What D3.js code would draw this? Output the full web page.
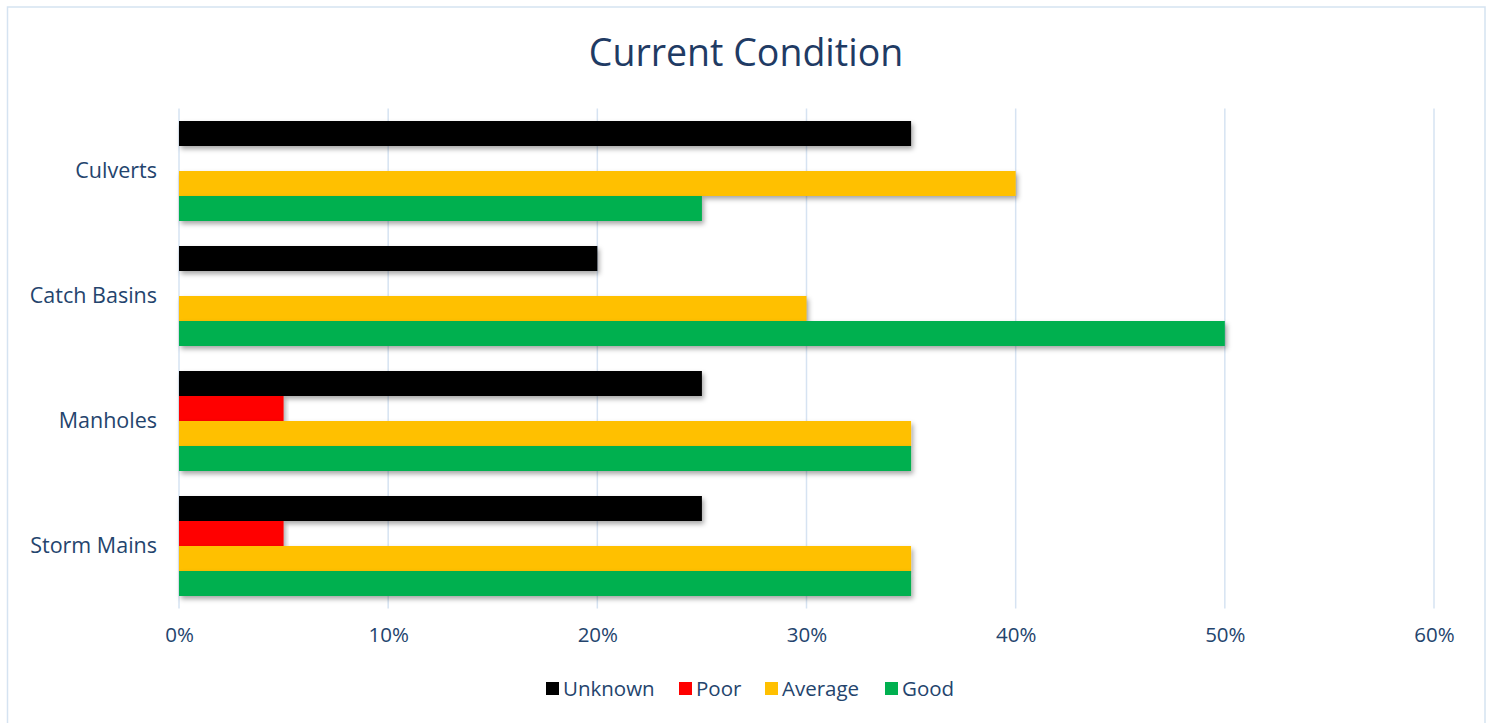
<!DOCTYPE html>
<html>
<head>
<meta charset="utf-8">
<script src="https://cdn.jsdelivr.net/npm/d3@7"></script>
<style>
  body { margin: 0; background: #fff; }
  text { font-family: "Open Sans", sans-serif; }
</style>
</head>
<body>
<div id="chart"></div>
<script>
// DATA
const categories = ["Culverts", "Catch Basins", "Manholes", "Storm Mains"]
const series = ["Unknown", "Poor", "Average", "Good"]
const colors = ["#000000", "#ff0000", "#ffc000", "#00b050"]
const unknownVals = [0.35, 0.20, 0.25, 0.25]
const poorVals = [0, 0, 0.05, 0.05]
const averageVals = [0.40, 0.30, 0.35, 0.35]
const goodVals = [0.25, 0.50, 0.35, 0.35]
const xTicks = [0, 0.1, 0.2, 0.3, 0.4, 0.5, 0.6]

const values = [unknownVals, poorVals, averageVals, goodVals]
const data = categories.map((c, i) => ({
  cat: c,
  vals: series.map((s, j) => ({ key: s, value: values[j][i] }))
}))

const width = 1492, height = 723
const margin = { left: 179, right: 58, top: 108.5, bottom: 114.5 }

const svg = d3.select("#chart")
  .append("svg")
  .attr("width", width)
  .attr("height", height)

// drop shadow like the office chart
const defs = svg.append("defs")
const f = defs.append("filter").attr("id", "shadow")
  .attr("x", "-5%").attr("y", "-30%").attr("width", "110%").attr("height", "180%")
f.append("feDropShadow")
  .attr("dx", 2).attr("dy", 3).attr("stdDeviation", 2.5)
  .attr("flood-color", "#000").attr("flood-opacity", 0.35)

// outer border
svg.append("rect")
  .attr("x", 7.5).attr("y", 7).attr("width", 1477.5).attr("height", 720)
  .attr("fill", "none").attr("stroke", "#d5e3f1").attr("stroke-width", 1.5)

const xScale = d3.scaleLinear()
  .domain([0, 0.6])
  .range([margin.left, width - margin.right])

const yScale = d3.scaleBand()
  .domain(categories)
  .range([margin.top, height - margin.bottom])
  .paddingInner(0.2)
  .paddingOuter(0.1)

const ySub = d3.scaleBand()
  .domain(series)
  .range([0, yScale.bandwidth()])

// GRID
svg.append("g")
  .selectAll("line")
  .data(xTicks)
  .join("line")
    .attr("x1", d => xScale(d))
    .attr("x2", d => xScale(d))
    .attr("y1", margin.top)
    .attr("y2", height - margin.bottom)
    .attr("stroke", "#d6e3f2")
    .attr("stroke-width", 1.5)

// X AXIS
const xAxis = d3.axisBottom(xScale)
  .tickValues(xTicks)
  .tickFormat(d3.format(".0%"))
  .tickSize(0)
  .tickPadding(19)

svg.append("g")
  .attr("transform", `translate(0, ${height - margin.bottom})`)
  .call(xAxis)
  .call(g => g.select(".domain").remove())
  .selectAll("text")
    .attr("font-size", 20.5)
    .attr("font-family", "Open Sans, sans-serif")
    .attr("fill", "#24446d")

// Y AXIS
const yAxis = d3.axisLeft(yScale).tickSize(0).tickPadding(22)
svg.append("g")
  .attr("transform", `translate(${margin.left}, 0)`)
  .call(yAxis)
  .call(g => g.select(".domain").remove())
  .selectAll("text")
    .attr("font-size", 21.5)
    .attr("font-family", "Open Sans, sans-serif")
    .attr("fill", "#24446d")

// BARS
const groups = svg.append("g")
  .selectAll("g")
  .data(data)
  .join("g")
    .attr("transform", d => `translate(0, ${yScale(d.cat)})`)

groups.selectAll("rect")
  .data(d => d.vals.filter(v => v.value > 0))
  .join("rect")
    .attr("x", xScale(0))
    .attr("y", d => ySub(d.key))
    .attr("width", d => xScale(d.value) - xScale(0))
    .attr("height", ySub.bandwidth())
    .attr("fill", (d) => colors[series.indexOf(d.key)])
    .attr("filter", "url(#shadow)")

// TITLE
svg.append("text")
  .attr("x", 746)
  .attr("y", 66)
  .attr("text-anchor", "middle")
  .attr("font-size", 37.5)
  .attr("fill", "#1f3b64")
  .text("Current Condition")

// LEGEND
const legendX = [546, 679, 765, 885]
const legend = svg.append("g")
  .selectAll("g")
  .data(series)
  .join("g")
    .attr("transform", (d, i) => `translate(${legendX[i]}, 682)`)

legend.append("rect")
  .attr("width", 13).attr("height", 13)
  .attr("fill", (d, i) => colors[i])

legend.append("text")
  .attr("x", 17)
  .attr("y", 14)
  .attr("font-size", 20.5)
  .attr("fill", "#24446d")
  .text(d => d)
</script>
</body>
</html>
